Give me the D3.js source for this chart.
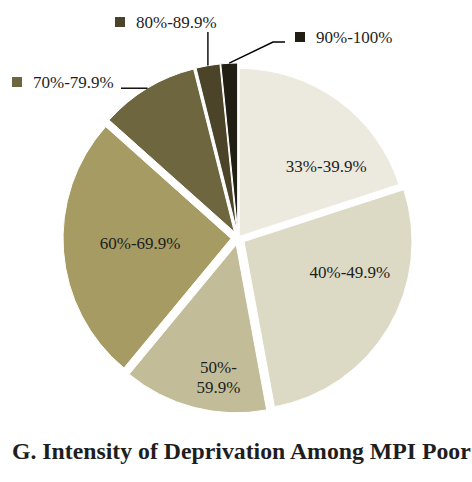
<!DOCTYPE html>
<html>
<head>
<meta charset="utf-8">
<script src="https://cdn.jsdelivr.net/npm/d3@7"></script>
<style>
    html, body { margin: 0; padding: 0; background: #fff; }
    #chartDiv { width: 472px; height: 482px; }
    text { font-family: "Liberation Serif", "DejaVu Serif", serif; fill: #1e1e1e; }
</style>
</head>
<body>
<div id="chartDiv"></div>
<script>
    'use strict';

    // intensity bands and share of MPI poor (%)
    const CATEGORIES = ['33%-39.9%', '40%-49.9%', '50%-59.9%', '60%-69.9%', '70%-79.9%', '80%-89.9%', '90%-100%'];
    const SHARES = [20.0, 27.1, 13.9, 25.6, 9.5, 2.3, 1.6];
    const COLORS = ['#ECEADF', '#DCDAC4', '#C2BD98', '#A69B62', '#6E663F', '#4B4429', '#211F14'];
    const TITLE = 'G. Intensity of Deprivation Among MPI Poor';

    const WIDTH = 472, HEIGHT = 482;
    const CX = 238, CY = 238, RADIUS = 168;
    const LABEL_SIZE = 17;

    // how far each slice is pulled out from the centre
    const EXPLODE = [2, 7, 7, 7, 7, 7, 7];

    // labels inside slices: [angle in degrees, distance from centre]
    const INSIDE_LABELS = { 0: [50.7, 114], 1: [107, 117], 2: [188, 140], 3: [267, 98] };

    // callout labels: legend swatch position + leader line start / elbow
    const CALLOUTS = [
        { idx: 4, box: [12, 77], line: [[121, null]] },
        { idx: 5, box: [115, 17], line: [[null, 32]] },
        { idx: 6, box: [295, 32], line: [[285, 42], [273, 42]] }
    ];

    const svg = d3.select('#chartDiv')
        .append('svg')
        .attr('width', WIDTH)
        .attr('height', HEIGHT);

    const pie = d3.pie()
        .sort(null)
        .startAngle(0)
        .endAngle(2 * Math.PI)
        .value(d => d);

    const arcs = pie(SHARES);

    const arc = d3.arc()
        .innerRadius(0)
        .outerRadius(RADIUS);

    const midAngle = d => (d.startAngle + d.endAngle) / 2;

    const offsetOf = (d, i) => {
        let a = midAngle(d);
        return [Math.sin(a) * EXPLODE[i], -Math.cos(a) * EXPLODE[i]];
    };

    const g = svg.append('g')
        .attr('transform', 'translate(' + CX + ',' + CY + ')');

    // slices
    g.selectAll('path.slice')
        .data(arcs)
        .enter()
        .append('path')
        .attr('class', 'slice')
        .attr('transform', (d, i) => 'translate(' + offsetOf(d, i).join(',') + ')')
        .attr('d', arc)
        .attr('fill', (d, i) => COLORS[i])
        .attr('stroke', '#fff')
        .attr('stroke-width', 1);

    // inside labels
    arcs.forEach((d, i) => {
        let pos = INSIDE_LABELS[i];
        if (!pos) return;
        let a = pos[0] * Math.PI / 180;
        let x = Math.sin(a) * pos[1];
        let y = -Math.cos(a) * pos[1];
        let label = CATEGORIES[i];
        let lines = i === 2 ? [label.slice(0, 4), label.slice(4)] : [label];
        let t = g.append('text')
            .attr('text-anchor', 'middle')
            .attr('font-size', LABEL_SIZE);
        lines.forEach((s, k) => {
            t.append('tspan')
                .attr('x', x)
                .attr('y', y + (k - (lines.length - 1) / 2) * 20)
                .attr('dy', '0.35em')
                .text(s);
        });
    });

    // callouts with leader lines
    CALLOUTS.forEach(c => {
        let d = arcs[c.idx];
        let off = offsetOf(d, c.idx);
        let a = midAngle(d);
        let end = [CX + off[0] + Math.sin(a) * RADIUS, CY + off[1] - Math.cos(a) * RADIUS];

        let pts = c.line.map(p => [p[0] === null ? end[0] : p[0], p[1] === null ? end[1] : p[1]]);
        pts.push(end);

        svg.append('path')
            .attr('d', d3.line()(pts))
            .attr('fill', 'none')
            .attr('stroke', '#000')
            .attr('stroke-width', 1.4);

        svg.append('rect')
            .attr('x', c.box[0])
            .attr('y', c.box[1])
            .attr('width', 10)
            .attr('height', 10)
            .attr('fill', COLORS[c.idx]);

        svg.append('text')
            .attr('x', c.box[0] + 21)
            .attr('y', c.box[1] + 5)
            .attr('dy', '0.35em')
            .attr('font-size', LABEL_SIZE)
            .text(CATEGORIES[c.idx]);
    });

    // title, sized to span the width like the original
    let title = svg.append('text')
        .attr('x', 12)
        .attr('y', 459)
        .attr('font-size', 20)
        .attr('font-weight', 'bold')
        .text(TITLE);
    let w = title.node().getComputedTextLength();
    title.attr('font-size', 20 * 459 / w);
</script>
</body>
</html>
